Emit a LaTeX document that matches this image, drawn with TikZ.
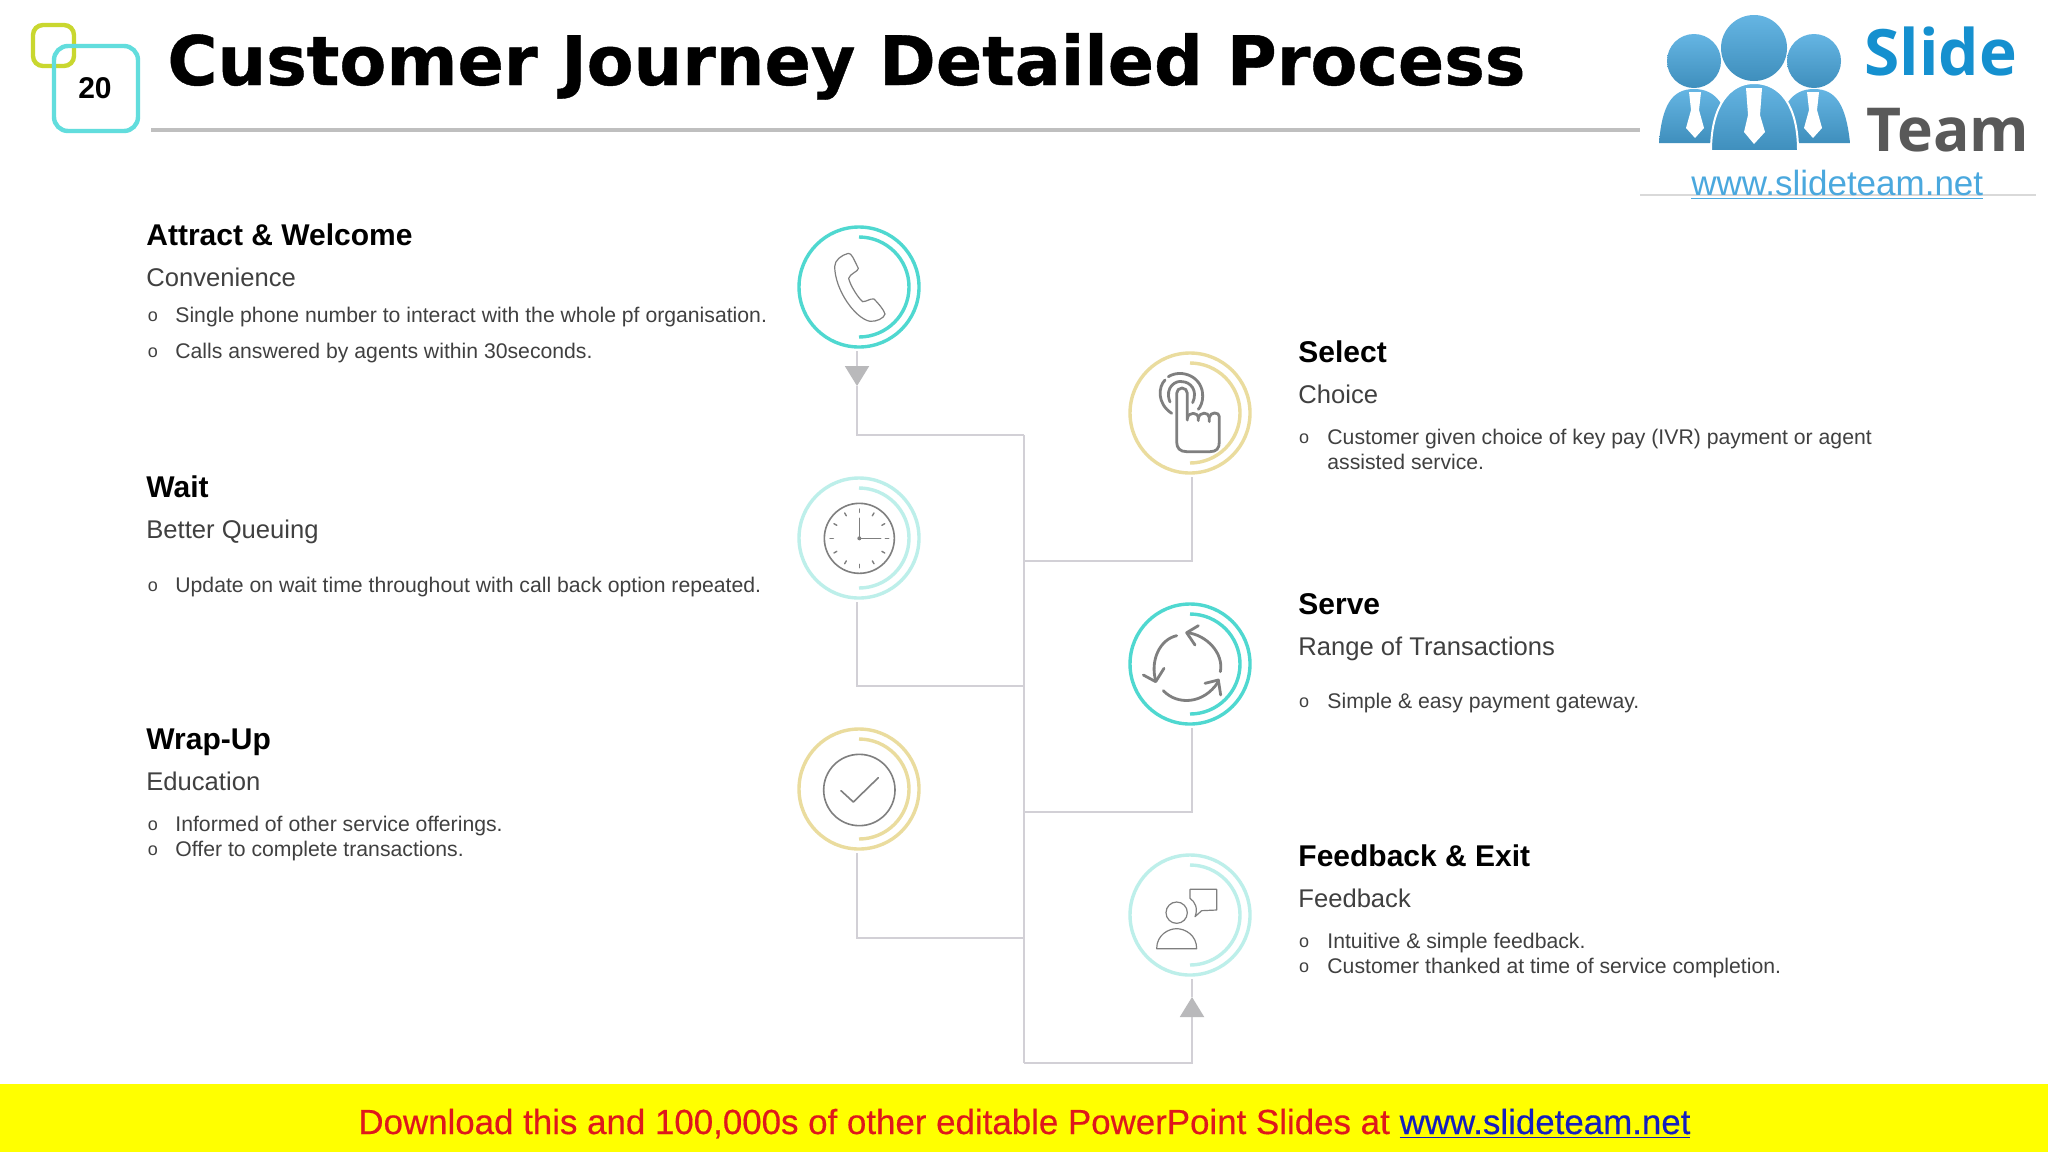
\documentclass[tikz,border=0pt]{standalone}
\usepackage{fontspec}
\setmainfont{Liberation Sans}
\newfontfamily\titlefont[FakeBold=0.6]{DejaVu Sans Bold}
\newfontfamily\logofont{Open Sans}
\newfontfamily\bandfont[FakeBold=0.4]{Liberation Sans}
\usetikzlibrary{positioning,arrows.meta,calc}
\definecolor{tealring}{HTML}{4FD8D0}
\definecolor{paleteal}{HTML}{BDEFEA}
\definecolor{sandring}{HTML}{EADC9E}
\definecolor{limebox}{HTML}{C9D72F}
\definecolor{tealbox}{HTML}{62DDDD}
\definecolor{wire}{HTML}{D2D0D6}
\definecolor{tipgrey}{HTML}{B9B9BB}
\definecolor{icongrey}{HTML}{7F7F7F}
\definecolor{subgrey}{HTML}{404040}
\definecolor{logoblue}{HTML}{4AA8DE}
\definecolor{slideblue}{HTML}{1590CF}
\definecolor{bandyellow}{RGB}{255,255,0}
\definecolor{bandred}{RGB}{222,24,28}
\definecolor{bandlink}{RGB}{20,30,190}
\begin{document}
\begin{tikzpicture}[x=0.5pt,y=-0.5pt,
		ring/.style={draw, circle, line width=1.7pt, minimum size=60pt, inner sep=0pt, outer sep=2pt},
		innerarc/.style={line width=1.7pt},
		wireline/.style={draw=wire, line width=1pt},
		arrowline/.style={draw=wire, line width=1pt, -{Triangle[width=12pt,length=10pt,color=tipgrey]}},
		headtxt/.style={anchor=base west, font=\fontsize{15}{18}\selectfont\bfseries, inner sep=0pt},
		subtxt/.style={anchor=base west, font=\fontsize{12.8}{15}\selectfont, text=subgrey, inner sep=0pt},
		itemtxt/.style={anchor=base west, font=\fontsize{10.6}{13}\selectfont, text=subgrey, inner sep=0pt},
		itemmark/.style={anchor=base, font=\fontsize{9}{11}\selectfont, text=subgrey, inner sep=0pt},
		iconthin/.style={draw=icongrey, line width=0.6pt, line cap=round, line join=round},
		iconthick/.style={draw=icongrey, line width=1.4pt, line cap=round, line join=round},
		zoomtop/.style={shift={(760,200)}, scale=1/3},
		zoomlow/.style={shift={(760,600)}, scale=1/3},
		person/.style={top color=logoblue!85!white, bottom color=logoblue!85!black}]
	\useasboundingbox (0,0) rectangle (2048,1152);
	\fill[white] (0,0) rectangle (2048,1152);

	% header
	\draw[limebox, line width=2.2pt, rounded corners=5pt] (33,25) rectangle (74,66);
	\draw[tealbox, line width=2.2pt, rounded corners=7pt] (54,46) rectangle (138,131);
	\node[font=\fontsize{15}{18}\selectfont\bfseries] (pagenum) at (95,88) {20};
	\node[anchor=base west, inner sep=0pt, font=\titlefont\fontsize{34.15}{40}\selectfont] (title) at (167,85) {Customer Journey Detailed Process};
	\coordinate (rulestart) at (151,130);
	\coordinate (ruleend) at (1640,130);
	\draw[draw=black!25, line width=2pt] (rulestart) -- (ruleend);

	% logo
	\fill[white] (1640,0) rectangle (2048,195);
	\draw[black!15, line width=0.6pt] (1640,195) -- (2036,195);
	\shade[person] (1694,61) circle[radius=27];
	\shade[person] (1814,61) circle[radius=27];
	\shade[person] (1659,143) .. controls (1662,105) and (1672,89) .. (1694,89) .. controls (1716,89) and (1728,105) .. (1732,143) -- cycle;
	\shade[person] (1850,143) .. controls (1846,105) and (1836,89) .. (1814,89) .. controls (1792,89) and (1780,105) .. (1776,143) -- cycle;
	\fill[white] (1689,92) -- (1701,92) -- (1699,110) -- (1704,128) -- (1695,138) -- (1686,128) -- (1691,110) -- cycle;
	\fill[white] (1807,92) -- (1819,92) -- (1817,110) -- (1822,128) -- (1813,138) -- (1804,128) -- (1809,110) -- cycle;
	\draw[white, line width=1pt, top color=logoblue!85!white, bottom color=logoblue!85!black] (1711,151) .. controls (1711,105) and (1730,83) .. (1754,83) .. controls (1780,83) and (1798,105) .. (1798,151) -- cycle;
	\fill[white] (1746,88) -- (1762,88) -- (1760,115) -- (1765,132) -- (1754,144) -- (1744,132) -- (1748,115) -- cycle;
	\shade[person] (1754,48) circle[radius=33];
	\node[anchor=base west, inner sep=0pt, text=slideblue, font=\logofont\fontsize{32}{36}\selectfont\bfseries] (logoslide) at (1864,75) {Slide};
	\node[anchor=base west, inner sep=0pt, text=black!65, font=\logofont\fontsize{30.3}{36}\selectfont\bfseries] (logoteam) at (1866,151) {Team};
	\node[anchor=base west, inner sep=0pt, text=logoblue, font=\fontsize{17.5}{20}\selectfont] (logourl) at (1691,195) {\underline{www.slideteam.net}};

	% rings
	\node[ring, draw=tealring] (phone) at (859,287) {};
	\node[ring, draw=sandring] (touch) at (1190,413) {};
	\node[ring, draw=paleteal] (clock) at (859,538) {};
	\node[ring, draw=tealring] (cycle) at (1190,664) {};
	\node[ring, draw=sandring] (check) at (859,789) {};
	\node[ring, draw=paleteal] (talk) at (1190,915) {};
	\draw[innerarc, tealring] ([yshift=-7pt]phone.north) arc[start angle=-90, end angle=90, radius=50];
	\draw[innerarc, sandring] ([yshift=-7pt]touch.north) arc[start angle=-90, end angle=90, radius=50];
	\draw[innerarc, paleteal] ([yshift=-7pt]clock.north) arc[start angle=-90, end angle=90, radius=50];
	\draw[innerarc, tealring] ([yshift=-7pt]cycle.north) arc[start angle=-90, end angle=90, radius=50];
	\draw[innerarc, sandring] ([yshift=-7pt]check.north) arc[start angle=-90, end angle=90, radius=50];
	\draw[innerarc, paleteal] ([yshift=-7pt]talk.north) arc[start angle=-90, end angle=90, radius=50];

	% connectors
	\coordinate (trunktop) at (1024,435);
	\coordinate (trunkbot) at (1024,1063);
	\coordinate (tipdown) at (857,386);
	\coordinate (tipup) at (1192,997);
	\draw[wireline] (trunktop) -- (trunkbot);
	\draw[arrowline] ([xshift=-1pt]phone.south) -- (tipdown);
	\draw[wireline] (tipdown) |- (trunktop);
	\draw[wireline] ([xshift=1pt]touch.south) |- (1024,561);
	\draw[wireline] ([xshift=-1pt]clock.south) |- (1024,686);
	\draw[wireline] ([xshift=1pt]cycle.south) |- (1024,812);
	\draw[wireline] ([xshift=-1pt]check.south) |- (1024,938);
	\draw[arrowline] (trunkbot) -| (tipup);
	\draw[wireline] (tipup) -- ([xshift=1pt]talk.south);

	% icons
	\begin{scope}[zoomtop]
		\draw[iconthin] (224,200) .. controls (224,180) and (245,165) .. (265,160) .. controls (275,160) and (280,175) .. (295,205) .. controls (295,215) and (270,220) .. (266,235) .. controls (270,255) and (295,295) .. (308,305) .. controls (320,305) and (330,295) .. (342,297) .. controls (355,310) and (372,330) .. (375,342) .. controls (372,355) and (350,365) .. (330,364) .. controls (285,355) and (225,270) .. (224,200) -- cycle;
		\draw[iconthick] (1282,660) -- (1282,580) arc[start angle=0, end angle=-180, radius=16] -- (1250,725) .. controls (1250,745) and (1260,755) .. (1280,755) -- (1350,755) .. controls (1370,755) and (1378,745) .. (1378,725) -- (1378,650) .. controls (1378,635) and (1350,635) .. (1348,652) -- (1348,665);
		\draw[iconthick] (1282,655) .. controls (1285,635) and (1315,635) .. (1315,655) -- (1315,662);
		\draw[iconthick] (1315,655) .. controls (1318,635) and (1346,635) .. (1348,652);
		\draw[iconthick] (1230,606) .. controls (1212,560) and (1250,540) .. (1266,545) .. controls (1290,545) and (1315,570) .. (1298,608);
		\draw[iconthick] (1235,640) .. controls (1190,610) and (1195,560) .. (1215,540);
		\draw[iconthick] (1225,530) .. controls (1265,505) and (1330,530) .. (1328,590) .. controls (1328,605) and (1322,620) .. (1315,628);
		\draw[iconthin, line width=0.8pt] (298,1015) circle[radius=105];
		\draw[iconthin, line width=0.8pt] (298,955) -- (298,1015) -- (362,1015);
		\fill[icongrey] (298,1015) circle[radius=6];
		\foreach \ang in {0,30,...,330}
			\draw[iconthin, line width=0.7pt] ($(298,1015)+(\ang:78)$) -- ($(298,1015)+(\ang:88)$);
	\end{scope}
	\begin{scope}[zoomlow]
		\draw[iconthick] (1250,107) .. controls (1200,118) and (1170,180) .. (1187,242);
		\draw[iconthick] (1150,225) -- (1187,245) -- (1212,205);
		\draw[iconthick] (1210,272) .. controls (1250,315) and (1330,315) .. (1375,245);
		\draw[iconthick] (1335,250) -- (1375,240) -- (1382,285);
		\draw[iconthick] (1381,215) .. controls (1392,160) and (1340,105) .. (1282,98);
		\draw[iconthick] (1315,77) -- (1280,98) -- (1305,135);
		\draw[iconthin, line width=0.8pt] (298,570) circle[radius=107];
		\draw[iconthin, line width=0.8pt] (243,572) -- (280,606) -- (355,533);
		\draw[iconthin] (1250,938) circle[radius=32];
		\draw[iconthin] (1190,1046) .. controls (1190,1005) and (1225,986) .. (1250,986) .. controls (1275,986) and (1310,1005) .. (1310,1046) -- cycle;
		\draw[iconthin] (1290,868) -- (1370,868) -- (1370,930) -- (1325,932) -- (1305,950) .. controls (1315,925) and (1305,905) .. (1290,895) -- cycle;
	\end{scope}

	% left column
	\node[headtxt] (attract) at (146,245) {Attract \& Welcome};
	\node[subtxt] (convenience) at (146,286) {Convenience};
	\node[itemmark] (m1) at (153,321) {o};
	\node[itemtxt] (i1) at (175,322) {Single phone number to interact with the whole pf organisation.};
	\node[itemmark] (m2) at (153,357) {o};
	\node[itemtxt] (i2) at (175,358) {Calls answered by agents within 30seconds.};

	\node[headtxt] (wait) at (146,497) {Wait};
	\node[subtxt] (queuing) at (146,538) {Better Queuing};
	\node[itemmark] (m3) at (153,591) {o};
	\node[itemtxt] (i3) at (175,592) {Update on wait time throughout with call back option repeated.};

	\node[headtxt] (wrapup) at (146,749) {Wrap-Up};
	\node[subtxt] (education) at (146,790) {Education};
	\node[itemmark] (m4) at (153,830) {o};
	\node[itemtxt] (i4) at (175,831) {Informed of other service offerings.};
	\node[itemmark] (m5) at (153,855) {o};
	\node[itemtxt] (i5) at (175,856) {Offer to complete transactions.};

	% right column
	\node[headtxt] (select) at (1298,362) {Select};
	\node[subtxt] (choice) at (1298,403) {Choice};
	\node[itemmark] (m6) at (1304,443) {o};
	\node[itemtxt] (i6) at (1327,444) {Customer given choice of key pay (IVR) payment or agent};
	\node[itemtxt] (i6b) at (1327,469) {assisted service.};

	\node[headtxt] (serve) at (1298,614) {Serve};
	\node[subtxt] (range) at (1298,655) {Range of Transactions};
	\node[itemmark] (m7) at (1304,707) {o};
	\node[itemtxt] (i7) at (1327,708) {Simple \& easy payment gateway.};

	\node[headtxt] (feedback) at (1298,866) {Feedback \& Exit};
	\node[subtxt] (feedsub) at (1298,907) {Feedback};
	\node[itemmark] (m8) at (1304,947) {o};
	\node[itemtxt] (i8) at (1327,948) {Intuitive \& simple feedback.};
	\node[itemmark] (m9) at (1304,972) {o};
	\node[itemtxt] (i9) at (1327,973) {Customer thanked at time of service completion.};

	% footer
	\fill[bandyellow] (0,1084) rectangle (2048,1152);
	\node[anchor=base west, inner sep=0pt, text=bandred, font=\bandfont\fontsize{17.44}{22}\selectfont] (footer) at (358,1134) {Download this and 100,000s of other editable PowerPoint Slides at \textcolor{bandlink}{\underline{www.slideteam.net}}};
\end{tikzpicture}
\end{document}
